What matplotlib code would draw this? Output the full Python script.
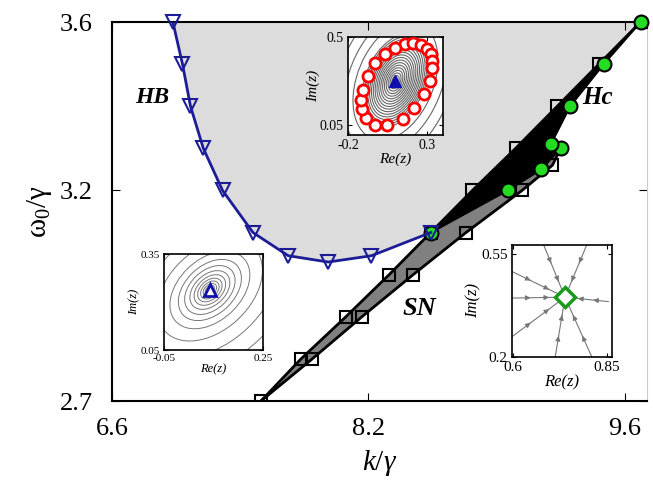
# bifurcation diagram in (k, omega0) plane with phase portrait insets

import numpy as np
import matplotlib.pyplot as plt
from matplotlib.patches import Ellipse

plt.rcParams['font.family'] = ['Liberation Serif', 'DejaVu Serif']
plt.rcParams['mathtext.fontset'] = 'custom'
plt.rcParams['mathtext.rm'] = 'Liberation Serif'
plt.rcParams['mathtext.it'] = 'Liberation Serif:italic'

# HB curve (Hopf)
hb_k = [6.98, 7.04, 7.09, 7.17, 7.29, 7.48, 7.70, 7.95, 8.22, 8.59]
hb_w = [3.60, 3.50, 3.40, 3.30, 3.20, 3.10, 3.045, 3.03, 3.045, 3.10]

# SN curve, two branches
sn1_k = [7.53, 7.78, 8.06, 8.33, 8.59, 8.85, 9.12, 9.38, 9.64, 9.90]
sn1_w = [2.70, 2.80, 2.90, 3.00, 3.10, 3.20, 3.30, 3.40, 3.50, 3.60]
sn2_k = [7.53, 7.85, 8.16, 8.48, 8.81, 9.16, 9.35]
sn2_w = [2.70, 2.80, 2.90, 3.00, 3.10, 3.20, 3.26]

# Hc curve (homoclinic)
hc_k = [8.59, 9.07, 9.28, 9.40, 9.34, 9.46, 9.67, 9.90]
hc_w = [3.10, 3.20, 3.25, 3.30, 3.31, 3.40, 3.50, 3.60]

xticks = [6.6, 8.2, 9.8]
xticklabels = ['6.6', '8.2', '9.6']
yticks = [2.7, 3.2, 3.6]

# inset 1: limit cycle points and focus
lc_re = [0.161, 0.213, 0.260, 0.298, 0.323, 0.330, 0.330, 0.315, 0.277, 0.220, 0.146,
         0.049, -0.029, -0.086, -0.113, -0.118, -0.107, -0.071, -0.029, 0.034, 0.097]
lc_im = [0.464, 0.468, 0.459, 0.437, 0.412, 0.380, 0.341, 0.274, 0.207, 0.139, 0.084,
         0.050, 0.053, 0.085, 0.134, 0.181, 0.232, 0.299, 0.367, 0.412, 0.442]
fp1 = (0.10, 0.277)
orb1_w = [0.02, 0.04, 0.06, 0.08, 0.10, 0.12, 0.14, 0.16, 0.18, 0.20, 0.22, 0.24,
          0.26, 0.28, 0.30, 0.32, 0.34, 0.36, 0.46, 0.56, 0.68]

# inset 2: stable focus
fp2 = (0.089, 0.2375)
orb2_w = [0.012, 0.022, 0.032, 0.044, 0.058, 0.075, 0.095, 0.12, 0.15, 0.19, 0.25, 0.33, 0.43]

# inset 3: stable node, trajectory start points
node = (0.738, 0.403)
traj_re = [0.681, 0.796, 0.597, 0.597, 0.597, 0.712, 0.809, 0.853]
traj_im = [0.581, 0.581, 0.490, 0.400, 0.269, 0.201, 0.201, 0.388]

blue = '#1c1c96'
W, H = 653., 490.

fig = plt.figure(figsize=(6.53, 4.9), dpi=100)
ax = fig.add_axes([112/W, 1-401/H, 535/W, 379/H])

# regions
ax.fill(hb_k + sn1_k[4:] + [hb_k[0]], hb_w + sn1_w[4:] + [3.6], color='#dcdcdc', lw=0, zorder=1)
ax.fill(sn1_k[:5] + hc_k[1:4] + sn2_k[::-1], sn1_w[:5] + hc_w[1:4] + sn2_w[::-1],
        color='#808080', lw=0, zorder=2)
ax.fill(sn1_k[4:] + hc_k[::-1], sn1_w[4:] + hc_w[::-1], color='black', lw=0, zorder=3)

ax.plot(sn1_k, sn1_w, '-', color='black', lw=2, zorder=4)
ax.plot(sn2_k + [hc_k[3]], sn2_w + [hc_w[3]], '-', color='black', lw=2, zorder=4)
ax.plot(hc_k, hc_w, '-', color='black', lw=1.5, zorder=4)
ax.plot(sn1_k, sn1_w, 's', ms=9, mfc='none', mec='black', mew=1.5, zorder=5)
ax.plot(sn2_k[1:], sn2_w[1:], 's', ms=9, mfc='none', mec='black', mew=1.5, zorder=5)
ax.plot(hc_k, hc_w, 'o', ms=10, mfc='#22dd22', mec='black', mew=1.5, zorder=6, clip_on=False)
ax.plot(hb_k, hb_w, '-', color=blue, lw=2, zorder=7)
ax.plot(hb_k, hb_w, 'v', ms=10, mfc='none', mec=blue, mew=1.5, zorder=7, clip_on=False)

ax.text(6.85, 3.42, 'HB', fontsize=17, fontweight='bold', fontstyle='italic', ha='center', va='center')
ax.text(9.63, 3.42, 'Hc', fontsize=18, fontweight='bold', fontstyle='italic', ha='center', va='center')
ax.text(8.52, 2.92, 'SN', fontsize=19, fontweight='bold', fontstyle='italic', ha='center', va='center')

ax.set_xlim(6.6, 9.94)
ax.set_ylim(2.7, 3.6)
ax.set_xticks(xticks)
ax.set_xticklabels(xticklabels)
ax.set_yticks(yticks)
ax.tick_params(direction='in', top=True, right=True, length=6, labelsize=19, pad=12)
ax.tick_params(axis='y', pad=14)
for s in ['left', 'bottom', 'top']:
    ax.spines[s].set_linewidth(1.5)
ax.spines['right'].set_color('#cccccc')
ax.set_xlabel(r'$k$/$\gamma$', fontsize=21, labelpad=6)
ax.set_ylabel(r'$\mathrm{\omega_0}$/$\mathrm{\gamma}$', fontsize=21, labelpad=4)


def style_inset(a, xl, yl, xt, yt, fs):
    a.set_xlim(*xl)
    a.set_ylim(*yl)
    a.set_xticks(xt)
    a.set_yticks(yt)
    a.set_xticklabels([('%g' % v) for v in xt])
    a.set_yticklabels([('%g' % v) for v in yt])
    a.tick_params(direction='in', top=True, right=True, length=3, labelsize=fs, pad=3)
    a.set_xlabel('Re(z)', fontsize=fs+1, fontstyle='italic', labelpad=0)
    a.set_ylabel('Im(z)', fontsize=fs+1, fontstyle='italic', labelpad=0)
    for s in a.spines.values():
        s.set_linewidth(1.2)


# inset 1
a1 = fig.add_axes([348/W, 1-135/H, 95/W, 98/H])
for w in orb1_w:
    a1.add_patch(Ellipse(fp1, w, w*1.45, angle=-35, fill=False, ec='#666666', lw=0.8))
a1.plot(lc_re, lc_im, 'o', ms=8, mfc='white', mec='red', mew=2, zorder=5)
a1.plot(*fp1, '^', ms=9, color='#1010b0', zorder=6)
style_inset(a1, (-0.2, 0.4), (0.0, 0.5), [-0.2, 0.3], [0.05, 0.5], 10)

# inset 2
a2 = fig.add_axes([164/W, 1-350/H, 99/W, 96/H])
for w in orb2_w:
    a2.add_patch(Ellipse(fp2, w, w*1.5, angle=-45, fill=False, ec='#777777', lw=0.7))
a2.plot(*fp2, '^', ms=9, mfc='white', mec='#1010b0', mew=2, zorder=6)
style_inset(a2, (-0.05, 0.25), (0.05, 0.35), [-0.05, 0.25], [0.05, 0.35], 8)

# inset 3
a3 = fig.add_axes([512/W, 1-357/H, 100/W, 112/H])
for x0, y0 in zip(traj_re, traj_im):
    a3.plot([x0, node[0]], [y0, node[1]], '-', color='#777777', lw=0.8)
    for f in (0.35, 0.7):
        xm = x0 + f*(node[0]-x0)
        ym = y0 + f*(node[1]-y0)
        a3.annotate('', xy=(xm, ym), xytext=(x0 + (f-0.05)*(node[0]-x0), y0 + (f-0.05)*(node[1]-y0)),
                    arrowprops=dict(arrowstyle='-|>', color='#777777', lw=0.8, mutation_scale=7))
a3.plot(*node, 'D', ms=10, mfc='white', mec='#1a9a1a', mew=2.5, zorder=6)
style_inset(a3, (0.597, 0.863), (0.2, 0.58), [0.6, 0.85], [0.2, 0.55], 11)

fig.savefig('out.png', dpi=100)
